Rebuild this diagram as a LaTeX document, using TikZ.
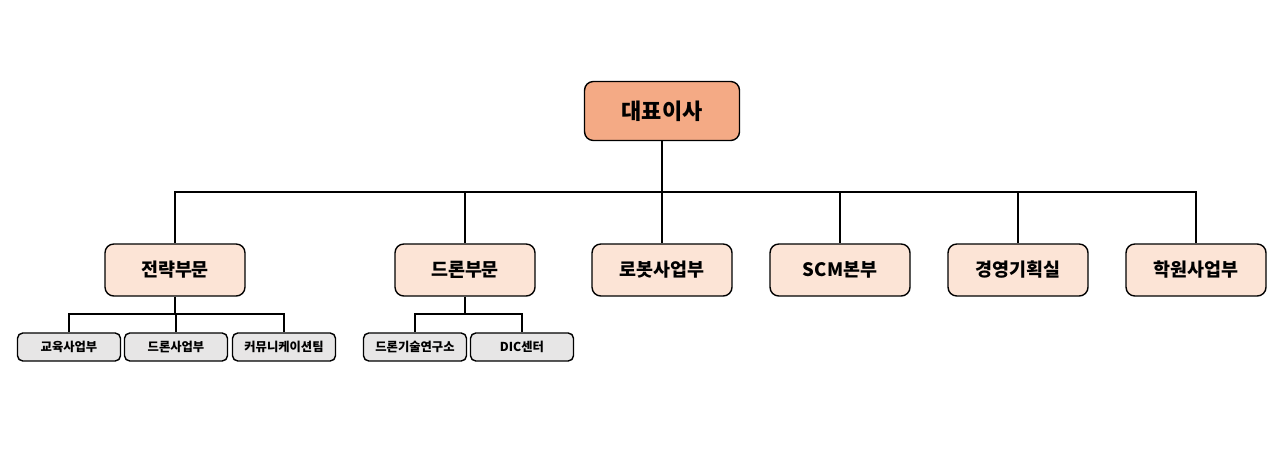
\documentclass[tikz,border=0pt]{standalone}
\usepackage{fontspec}
\setmainfont{Noto Sans CJK KR}
\usetikzlibrary{positioning}
\definecolor{ceo}{HTML}{F4AA85}
\definecolor{dept}{HTML}{FCE4D6}
\definecolor{team}{HTML}{E7E6E6}
\tikzset{
  box/.style={draw, thick, rounded corners=5pt, font=\bfseries},
  top/.style={box, fill=ceo, minimum width=3.1cm, minimum height=1.18cm, font=\bfseries\fontsize{12.5}{14}\selectfont},
  mid/.style={box, fill=dept, minimum width=2.8cm, minimum height=1.04cm, font=\bfseries\fontsize{10.5}{12}\selectfont},
  low/.style={box, fill=team, rounded corners=3pt, minimum width=2.06cm, minimum height=0.56cm, inner sep=1pt, font=\bfseries\fontsize{7}{8}\selectfont},
  link/.style={thick}
}
\begin{document}
\begin{tikzpicture}[x=0.02cm,y=-0.02cm]
    \useasboundingbox (0,0) rectangle (1283,463);
    \node[top] (ceo) at (662,111) {대표이사};

    \node[mid] (d1) at (175,270) {전략부문};
    \node[mid] (d2) at (465,270) {드론부문};
    \node[mid] (d3) at (662,270) {로봇사업부};
    \node[mid] (d4) at (840,270) {SCM본부};
    \node[mid] (d5) at (1018,270) {경영기획실};
    \node[mid] (d6) at (1196,270) {학원사업부};

    \node[low] (t1) at (69,347) {교육사업부};
    \node[low] (t2) at (176,347) {드론사업부};
    \node[low] (t3) at (284,347) {커뮤니케이션팀};
    \node[low] (t4) at (415,347) {드론기술연구소};
    \node[low] (t5) at (522,347) {DIC센터};

    % main bus
    \coordinate (bus) at (662,192);
    \draw[link] (ceo) -- (bus);
    \foreach \d in {d1,d2,d3,d4,d5,d6}
        \draw[link] (bus) -| (\d);

    % sub buses
    \coordinate (b1) at (175,314);
    \coordinate (b2) at (465,314);
    \draw[link] (d1) -- (b1);
    \foreach \t in {t1,t2,t3}
        \draw[link] (b1) -| (\t);
    \draw[link] (d2) -- (b2);
    \foreach \t in {t4,t5}
        \draw[link] (b2) -| (\t);
\end{tikzpicture}
\end{document}
